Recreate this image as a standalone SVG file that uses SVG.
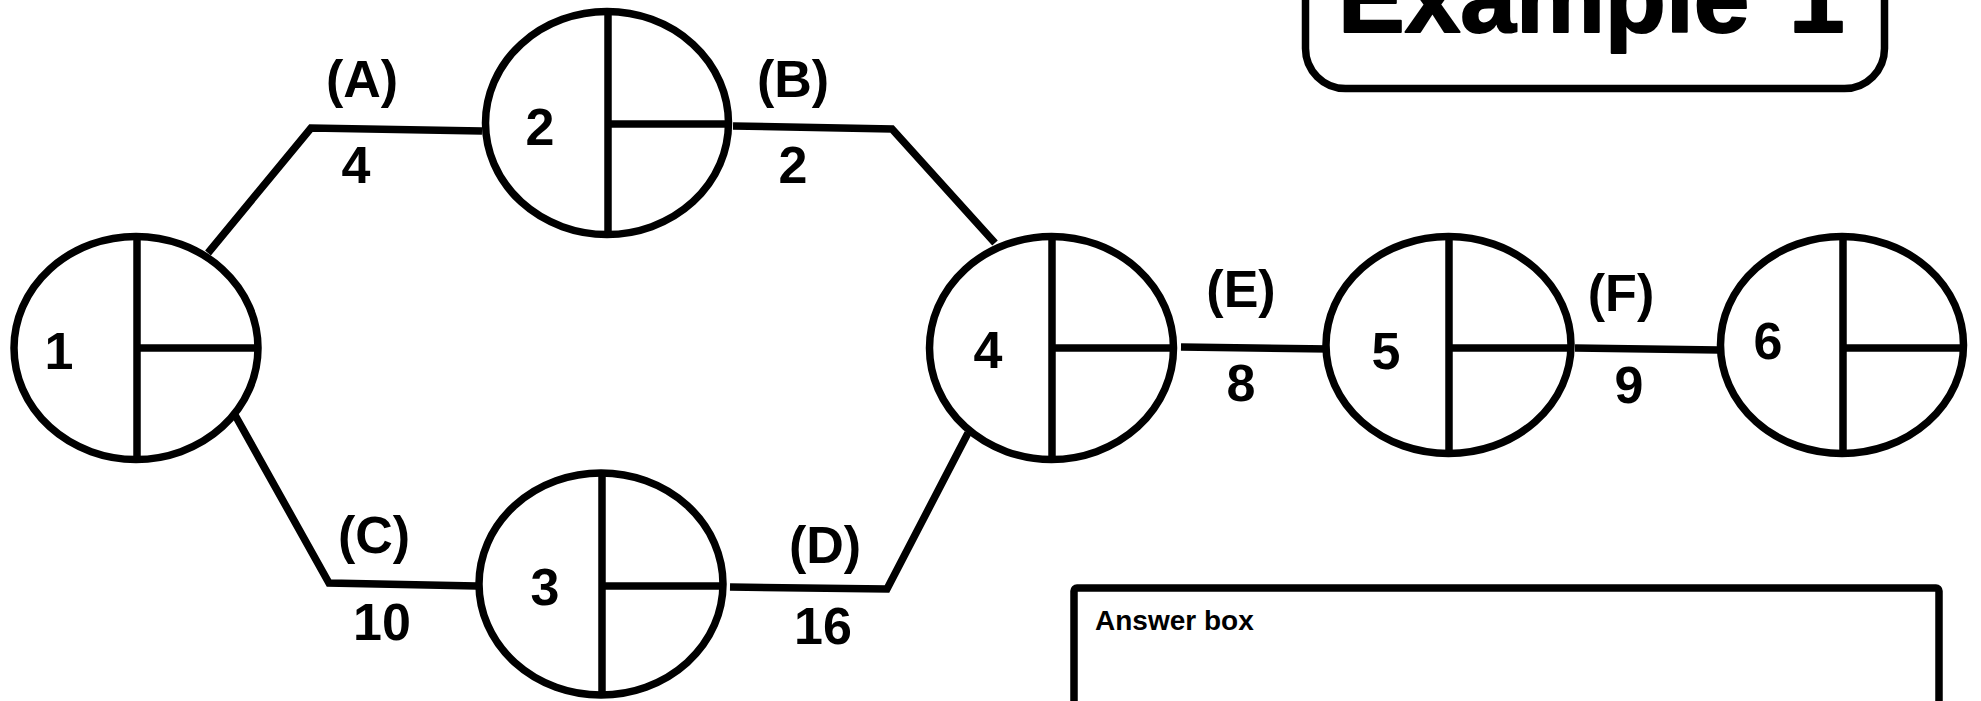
<svg xmlns="http://www.w3.org/2000/svg" width="1981" height="701" viewBox="0 0 1981 701">
<style>
  .bg{fill:#ffffff}
  .node{fill:#ffffff;stroke:#000000;stroke-width:7.5}
  .div{fill:none;stroke:#000000;stroke-width:7.5;stroke-linecap:butt}
  .edge{fill:none;stroke:#000000;stroke-width:7.5;stroke-linejoin:miter;stroke-linecap:butt}
  .lbl{font-family:"Liberation Sans",Arial,sans-serif;font-weight:bold;font-size:52px;fill:#000000;text-anchor:middle}
  .box{fill:#ffffff;stroke:#000000;stroke-width:7.5}
  .title{font-family:"Liberation Sans",Arial,sans-serif;font-weight:bold;font-size:100px;fill:#000000;stroke:#000000;stroke-width:2;stroke-linejoin:round}
  .ans{font-family:"Liberation Sans",Arial,sans-serif;font-weight:bold;font-size:28px;fill:#000000}
</style>
<rect class="bg" x="0" y="0" width="1981" height="701"/>

<g id="title">
  <rect class="box" x="1305.5" y="-120" width="579" height="208.5" rx="40" ry="40"/>
  <text class="title" x="1338" y="32" word-spacing="12">Example 1</text>
</g>

<g id="answer-box">
  <rect class="box" x="1074" y="588" width="865" height="200" rx="3" ry="3"/>
  <text class="ans" x="1095" y="630">Answer box</text>
</g>

<g id="connectors">
  <g id="edge-A">
    <path class="edge" d="M208,253 L311,128 L482,131"/>
    <text class="lbl" x="362" y="97">(A)</text>
    <text class="lbl" x="356" y="183">4</text>
  </g>
  <g id="edge-B">
    <path class="edge" d="M733,126 L892,129 L995,243"/>
    <text class="lbl" x="793" y="97">(B)</text>
    <text class="lbl" x="793" y="183">2</text>
  </g>
  <g id="edge-C">
    <path class="edge" d="M235,415 L329,583 L477,586"/>
    <text class="lbl" x="374" y="553">(C)</text>
    <text class="lbl" x="382" y="640">10</text>
  </g>
  <g id="edge-D">
    <path class="edge" d="M730,587 L887,589 L968,433"/>
    <text class="lbl" x="825" y="563">(D)</text>
    <text class="lbl" x="823" y="644">16</text>
  </g>
  <g id="edge-E">
    <path class="edge" d="M1181,347 L1330,349"/>
    <text class="lbl" x="1241" y="307">(E)</text>
    <text class="lbl" x="1241" y="401">8</text>
  </g>
  <g id="edge-F">
    <path class="edge" d="M1575,348 L1719,350"/>
    <text class="lbl" x="1621" y="311">(F)</text>
    <text class="lbl" x="1629" y="403">9</text>
  </g>
</g>

<g id="node-1">
  <ellipse class="node" cx="136" cy="348" rx="122" ry="111.5"/>
  <line class="div" x1="137" y1="236.5" x2="137" y2="459.5"/>
  <line class="div" x1="137" y1="348" x2="258" y2="348"/>
  <text class="lbl" x="59" y="369">1</text>
</g>

<g id="node-2">
  <ellipse class="node" cx="607" cy="123" rx="121.5" ry="111.5"/>
  <line class="div" x1="608" y1="11.5" x2="608" y2="234.5"/>
  <line class="div" x1="608" y1="124" x2="729" y2="124"/>
  <text class="lbl" x="540" y="145">2</text>
</g>

<g id="node-3">
  <ellipse class="node" cx="601" cy="584" rx="122" ry="111"/>
  <line class="div" x1="602" y1="473" x2="602" y2="695"/>
  <line class="div" x1="602" y1="586" x2="723" y2="586"/>
  <text class="lbl" x="545" y="605">3</text>
</g>

<g id="node-4">
  <ellipse class="node" cx="1051.5" cy="348" rx="122" ry="111.5"/>
  <line class="div" x1="1052" y1="236.5" x2="1052" y2="459.5"/>
  <line class="div" x1="1052" y1="348" x2="1173" y2="348"/>
  <text class="lbl" x="988" y="368">4</text>
</g>

<g id="node-5">
  <ellipse class="node" cx="1448.5" cy="345" rx="122.5" ry="108.5"/>
  <line class="div" x1="1449" y1="236.5" x2="1449" y2="453.5"/>
  <line class="div" x1="1449" y1="348" x2="1571" y2="348"/>
  <text class="lbl" x="1386" y="369">5</text>
</g>

<g id="node-6">
  <ellipse class="node" cx="1842" cy="345" rx="121.5" ry="108.5"/>
  <line class="div" x1="1843" y1="236.5" x2="1843" y2="453.5"/>
  <line class="div" x1="1843" y1="348" x2="1963.5" y2="348"/>
  <text class="lbl" x="1768" y="359">6</text>
</g>
</svg>
